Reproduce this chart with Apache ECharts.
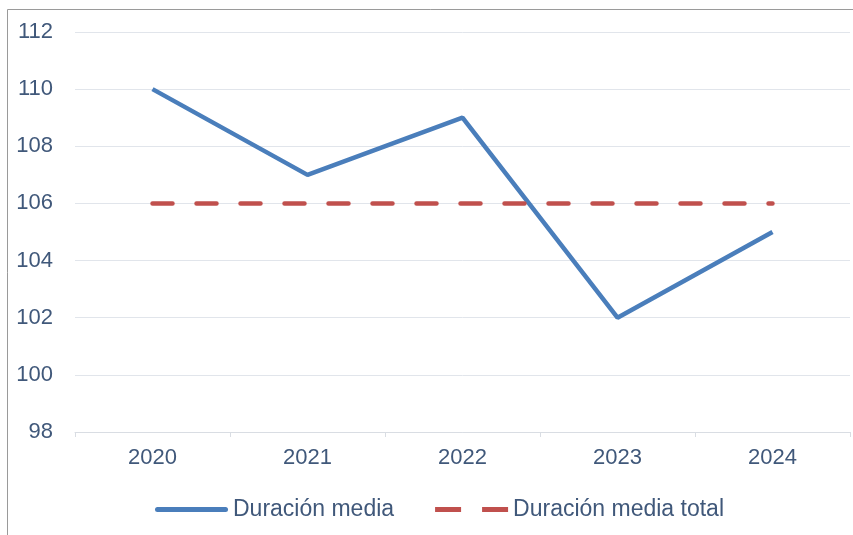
<!DOCTYPE html>
<html>
<head>
<meta charset="utf-8">
<script src="https://cdn.jsdelivr.net/npm/echarts@6/dist/echarts.min.js"></script>
<style>
  html, body { margin: 0; padding: 0; background: #fff; }
  #chart { width: 853px; height: 535px; }
</style>
</head>
<body>
<div id="chart"></div>
<script>
// Years on the horizontal axis
const years = ['2020', '2021', '2022', '2023', '2024'];
// Average duration per year
const duracionMedia = [110, 107, 109, 102, 105];
// Overall average duration (constant reference line)
const duracionMediaTotal = [106, 106, 106, 106, 106];

const textColor = '#40587a';
const fontFamily = '"Liberation Sans", Arial, sans-serif';
const blue = '#4a7ebb';
const red = '#c0504d';

const chart = echarts.init(document.getElementById('chart'), null, { renderer: 'canvas' });
chart.setOption({
  backgroundColor: '#ffffff',
  animation: false,
  graphic: [{
    type: 'rect',
    shape: { x: 7.5, y: 9.5, width: 900, height: 600 },
    style: { fill: 'none', stroke: '#9a9a9a', lineWidth: 1 },
    silent: true
  }],
  grid: { left: 75, right: 3, top: 32, bottom: 103, containLabel: false },
  xAxis: {
    type: 'category',
    data: years,
    boundaryGap: true,
    axisLine: { lineStyle: { color: '#d9dde3', width: 1 } },
    axisTick: { show: true, length: 5, lineStyle: { color: '#d9dde3' } },
    axisLabel: { color: textColor, fontSize: 22, fontFamily, margin: 15 }
  },
  yAxis: {
    type: 'value',
    min: 98,
    max: 112,
    interval: 2,
    axisLine: { show: false },
    axisTick: { show: false },
    splitLine: { lineStyle: { color: '#e1e5eb', width: 1 } },
    axisLabel: { color: textColor, fontSize: 22, fontFamily, margin: 22 }
  },
  legend: {
    bottom: 9,
    left: 150,
    itemWidth: 73,
    itemHeight: 5,
    itemGap: 41,
    textStyle: { color: textColor, fontSize: 23, fontFamily },
    data: [
      {
        name: 'Duración media',
        icon: 'path://M2.5,0h68a2.5,2.5 0 0 1 0,5h-68a2.5,2.5 0 0 1 0,-5z',
        itemStyle: { color: blue, borderWidth: 0 },
        lineStyle: { width: 0 }
      },
      {
        name: 'Duración media total',
        icon: 'path://M0,0h26v5h-26z M47,0h26v5h-26z',
        itemStyle: { color: red, borderWidth: 0 },
        lineStyle: { width: 0 }
      }
    ]
  },
  series: [
    {
      name: 'Duración media',
      type: 'line',
      data: duracionMedia,
      symbol: 'none',
      color: blue,
      lineStyle: { color: blue, width: 4.5 }
    },
    {
      name: 'Duración media total',
      type: 'line',
      data: duracionMediaTotal,
      symbol: 'none',
      color: red,
      lineStyle: { color: red, width: 4.5, type: [20, 24], cap: 'round' }
    }
  ]
});
</script>
</body>
</html>
